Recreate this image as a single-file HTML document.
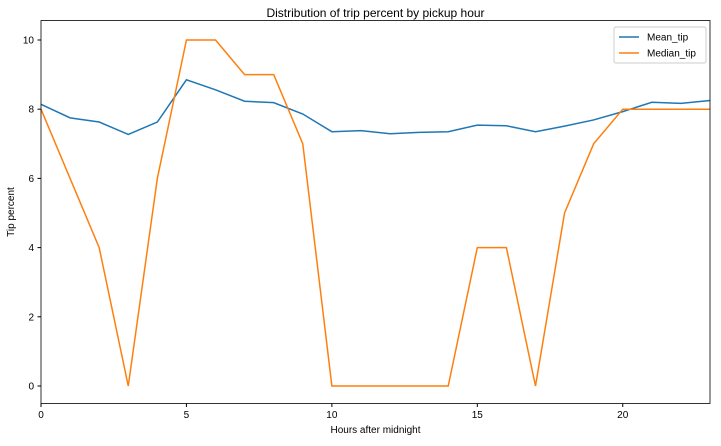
<!DOCTYPE html>
<html><head><meta charset="utf-8"><style>
body{margin:0;background:#fff;font-family:"Liberation Sans",sans-serif}
svg text{font-family:"Liberation Sans",sans-serif;fill:#000}
</style></head><body>
<svg id="chart" width="721" height="441">
<rect x="0" y="0" width="721" height="441" fill="#fff"/>
<text x="375.5" y="17" font-size="12" text-anchor="middle">Distribution of trip percent by pickup hour</text>
<g id="axes"></g>
<g id="lines"></g>
<rect x="41" y="20.5" width="669" height="383" fill="none" stroke="#000" stroke-width="0.8"/>
<text x="375.5" y="433" font-size="10" text-anchor="middle">Hours after midnight</text>
<text transform="translate(14,212) rotate(-90)" font-size="10" text-anchor="middle">Tip percent</text>
<g>
<rect x="614" y="27" width="92" height="36" fill="#fff" stroke="#ccc" rx="2"/>
<g><line x1="619" y1="37" x2="639" y2="37" stroke="#1f77b4" stroke-width="1.5"/><text x="647" y="40.5" font-size="10">Mean_tip</text></g>
<g><line x1="619" y1="53" x2="639" y2="53" stroke="#ff7f0e" stroke-width="1.5"/><text x="647" y="56.5" font-size="10">Median_tip</text></g>
</g>
</svg>
<script>
const hours=[0,1,2,3,4,5,6,7,8,9,10,11,12,13,14,15,16,17,18,19,20,21,22,23];
const meanTip=[8.14,7.75,7.63,7.27,7.63,8.85,8.56,8.23,8.19,7.86,7.35,7.38,7.29,7.33,7.35,7.54,7.52,7.35,7.51,7.69,7.93,8.2,8.17,8.25];
const medianTip=[8,6,4,0,6,10,10,9,9,7,0,0,0,0,0,4,4,0,5,7,8,8,8,8];
const xTicks=[0,5,10,15,20];
const yTicks=[0,2,4,6,8,10];
const NS="http://www.w3.org/2000/svg";
const X=v=>41+v*(669/23);
const Y=v=>386-v*34.6;
const axes=document.getElementById('axes');
xTicks.forEach(t=>{
 const l=document.createElementNS(NS,'line');
 l.setAttribute('x1',X(t));l.setAttribute('x2',X(t));l.setAttribute('y1',403.5);l.setAttribute('y2',407);l.setAttribute('stroke','#000');
 
 
 axes.appendChild(l);
 const tx=document.createElementNS(NS,'text');
 tx.setAttribute('x',X(t));tx.setAttribute('y',418);tx.setAttribute('font-size','10');tx.setAttribute('text-anchor','middle');tx.textContent=t;
 
 
 axes.appendChild(tx);
});
yTicks.forEach(t=>{
 const l=document.createElementNS(NS,'line');
 l.setAttribute('x1',37.5);l.setAttribute('x2',41);l.setAttribute('y1',Y(t));l.setAttribute('y2',Y(t));l.setAttribute('stroke','#000');
 
 
 axes.appendChild(l);
 const tx=document.createElementNS(NS,'text');
 tx.setAttribute('x',34);tx.setAttribute('y',Y(t)+3.5);tx.setAttribute('font-size','10');tx.setAttribute('text-anchor','end');tx.textContent=t;
 
 
 axes.appendChild(tx);
});
const lines=document.getElementById('lines');
function drawLine(vals,color,name){
 const p=document.createElementNS(NS,'polyline');
 p.setAttribute('points',vals.map((v,i)=>X(hours[i])+','+Y(v)).join(' '));
 p.setAttribute('fill','none');p.setAttribute('stroke',color);p.setAttribute('stroke-width','1.5');
 
 
 lines.appendChild(p);
}
drawLine(meanTip,'#1f77b4','mean-tip-line');
drawLine(medianTip,'#ff7f0e','median-tip-line');
</script>
</body></html>
